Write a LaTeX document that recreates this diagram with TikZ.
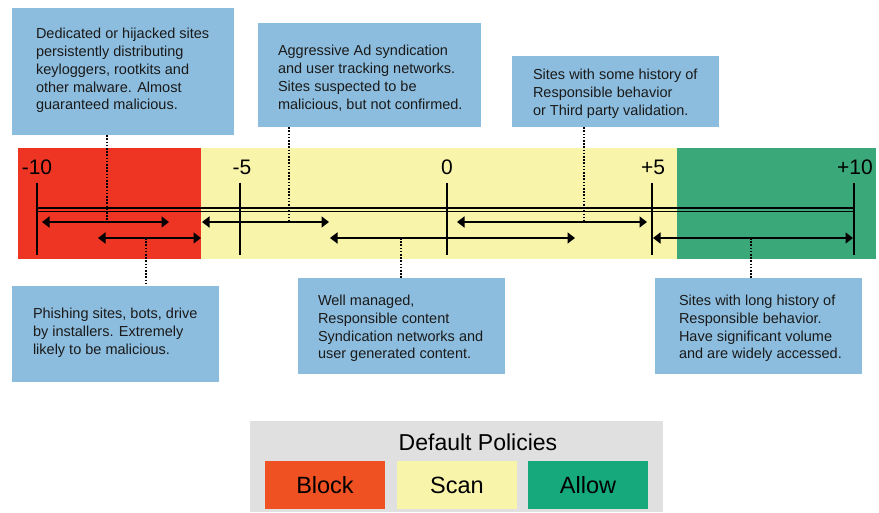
\documentclass[tikz,border=0pt]{standalone}
\usepackage{fontspec}
\setmainfont{Liberation Sans}
\usetikzlibrary{arrows.meta}
\definecolor{bandred}{RGB}{238,53,36}
\definecolor{bandyellow}{RGB}{248,244,170}
\definecolor{bandgreen}{RGB}{59,168,122}
\definecolor{boxblue}{RGB}{141,189,222}
\definecolor{leggray}{RGB}{224,224,224}
\definecolor{blockred}{RGB}{240,81,35}
\definecolor{allowgreen}{RGB}{22,169,123}
\definecolor{txtdark}{RGB}{26,26,26}
\tikzset{
  infobox/.style={fill=boxblue, draw=none, inner sep=0pt},
  infotxt/.style={anchor=west, align=left, inner sep=0pt, text=txtdark,
    font=\fontsize{14.5}{17.8}\selectfont},
  scalelbl/.style={anchor=base, inner sep=0pt, font=\fontsize{21}{24}\selectfont},
  tickline/.style={line width=2.8pt},
  railline/.style={line width=1.7pt},
  rangearrow/.style={line width=1.7pt, {Triangle[length=7.5pt,width=11pt]}-{Triangle[length=7.5pt,width=11pt]}},
  dotline/.style={line width=1.7pt, dash pattern=on 1.6pt off 1.6pt},
  legbox/.style={draw=none, inner sep=0pt, minimum width=120pt, minimum height=48pt,
    font=\fontsize{23.5}{26}\selectfont},
}
\begin{document}
\begin{tikzpicture}[x=1pt,y=-1pt]
\useasboundingbox (0,0) rectangle (879,513);
% bands
\fill[bandred] (18,148) rectangle (201,259);
\fill[bandyellow] (201,148) rectangle (677,259);
\fill[bandgreen] (677,148) rectangle (876,259);
% ticks
\foreach \n/\x in {m10/37, m5/240, z/447, p5/652, p10/854} {
  \coordinate (top\n) at (\x,183);
  \coordinate (bot\n) at (\x,255);
  \draw[tickline] (top\n) -- (bot\n);
}
% scale labels
\node[scalelbl] (lm10) at (37,175) {-10};
\node[scalelbl] (lm5) at (242,175) {-5};
\node[scalelbl] (lz) at (447,175) {0};
\node[scalelbl] (lp5) at (653,175) {+5};
\node[scalelbl] (lp10) at (855,175) {+10};
% rail
\coordinate (r1a) at (37,208); \coordinate (r1b) at (854,208);
\coordinate (r2a) at (37,211.5); \coordinate (r2b) at (854,211.5);
\draw[railline] (r1a) -- (r1b);
\draw[railline] (r2a) -- (r2b);
% range arrows
\coordinate (a1l) at (42,222); \coordinate (a1r) at (169,222);
\coordinate (a3l) at (202,222); \coordinate (a3r) at (329,222);
\coordinate (a5l) at (457,222); \coordinate (a5r) at (647,222);
\coordinate (a2l) at (98,238); \coordinate (a2r) at (201,238);
\coordinate (a4l) at (330,238); \coordinate (a4r) at (575,238);
\coordinate (a6l) at (653,238); \coordinate (a6r) at (853,238);
\draw[rangearrow] (a1l) -- (a1r);
\draw[rangearrow] (a3l) -- (a3r);
\draw[rangearrow] (a5l) -- (a5r);
\draw[rangearrow] (a2l) -- (a2r);
\draw[rangearrow] (a4l) -- (a4r);
\draw[rangearrow] (a6l) -- (a6r);
% attachment points
\coordinate (m1) at (107,222);
\coordinate (m3) at (289,222);
\coordinate (m5) at (584,222);
\coordinate (m2) at (146,238);
\coordinate (m4) at (401,238);
\coordinate (m6) at (751,238);
% top boxes
\node[infobox, minimum width=222pt, minimum height=127pt] (b1) at (123,71.5) {};
\node[infotxt] (t1) at ([xshift=24pt,yshift=1pt]b1.west) {Dedicated or hijacked sites\\persistently distributing\\keyloggers, rootkits and\\other malware. Almost\\guaranteed malicious.};
\node[infobox, minimum width=223pt, minimum height=104pt] (b2) at (369.5,75) {};
\node[infotxt] (t2) at ([xshift=20pt,yshift=-3pt]b2.west) {Aggressive Ad syndication\\and user tracking networks.\\Sites suspected to be\\malicious, but not confirmed.};
\node[infobox, minimum width=207pt, minimum height=71pt] (b3) at (615.5,91.5) {};
\node[infotxt] (t3) at ([xshift=21pt,yshift=-2.5pt]b3.west) {Sites with some history of\\Responsible behavior\\or Third party validation.};
% bottom boxes
\node[infobox, minimum width=207pt, minimum height=96pt] (b4) at (115.5,334) {};
\node[infotxt] (t4) at ([xshift=21pt,yshift=1pt]b4.west) {Phishing sites, bots, drive\\by installers. Extremely\\likely to be malicious.};
\node[infobox, minimum width=207pt, minimum height=96pt] (b5) at (401.5,326) {};
\node[infotxt] (t5) at ([xshift=20pt,yshift=-2.5pt]b5.west) {Well managed,\\Responsible content\\Syndication networks and\\user generated content.};
\node[infobox, minimum width=207pt, minimum height=96pt] (b6) at (758.5,326) {};
\node[infotxt] (t6) at ([xshift=24pt,yshift=-2.5pt]b6.west) {Sites with long history of\\Responsible behavior.\\Have significant volume\\and are widely accessed.};
% dotted connectors
\draw[dotline] (b1.south -| m1) -- (m1);
\draw[dotline] (b2.south -| m3) -- (m3);
\draw[dotline] (b3.south -| m5) -- (m5);
\draw[dotline] (m2) -- (b4.north -| m2);
\draw[dotline] (m4) -- (b5.north -| m4);
\draw[dotline] (m6) -- (b6.north -| m6);
% legend
\node[fill=leggray, inner sep=0pt, minimum width=413pt, minimum height=91pt] (leg) at (456.5,466.5) {};
\node[anchor=base, inner sep=0pt, font=\fontsize{23}{26}\selectfont] (legt) at (478,450) {Default Policies};
\node[legbox, fill=blockred] (block) at (325,485) {Block};
\node[legbox, fill=bandyellow] (scan) at (457,485) {Scan};
\node[legbox, fill=allowgreen] (allow) at (588,485) {Allow};
\end{tikzpicture}
\end{document}
